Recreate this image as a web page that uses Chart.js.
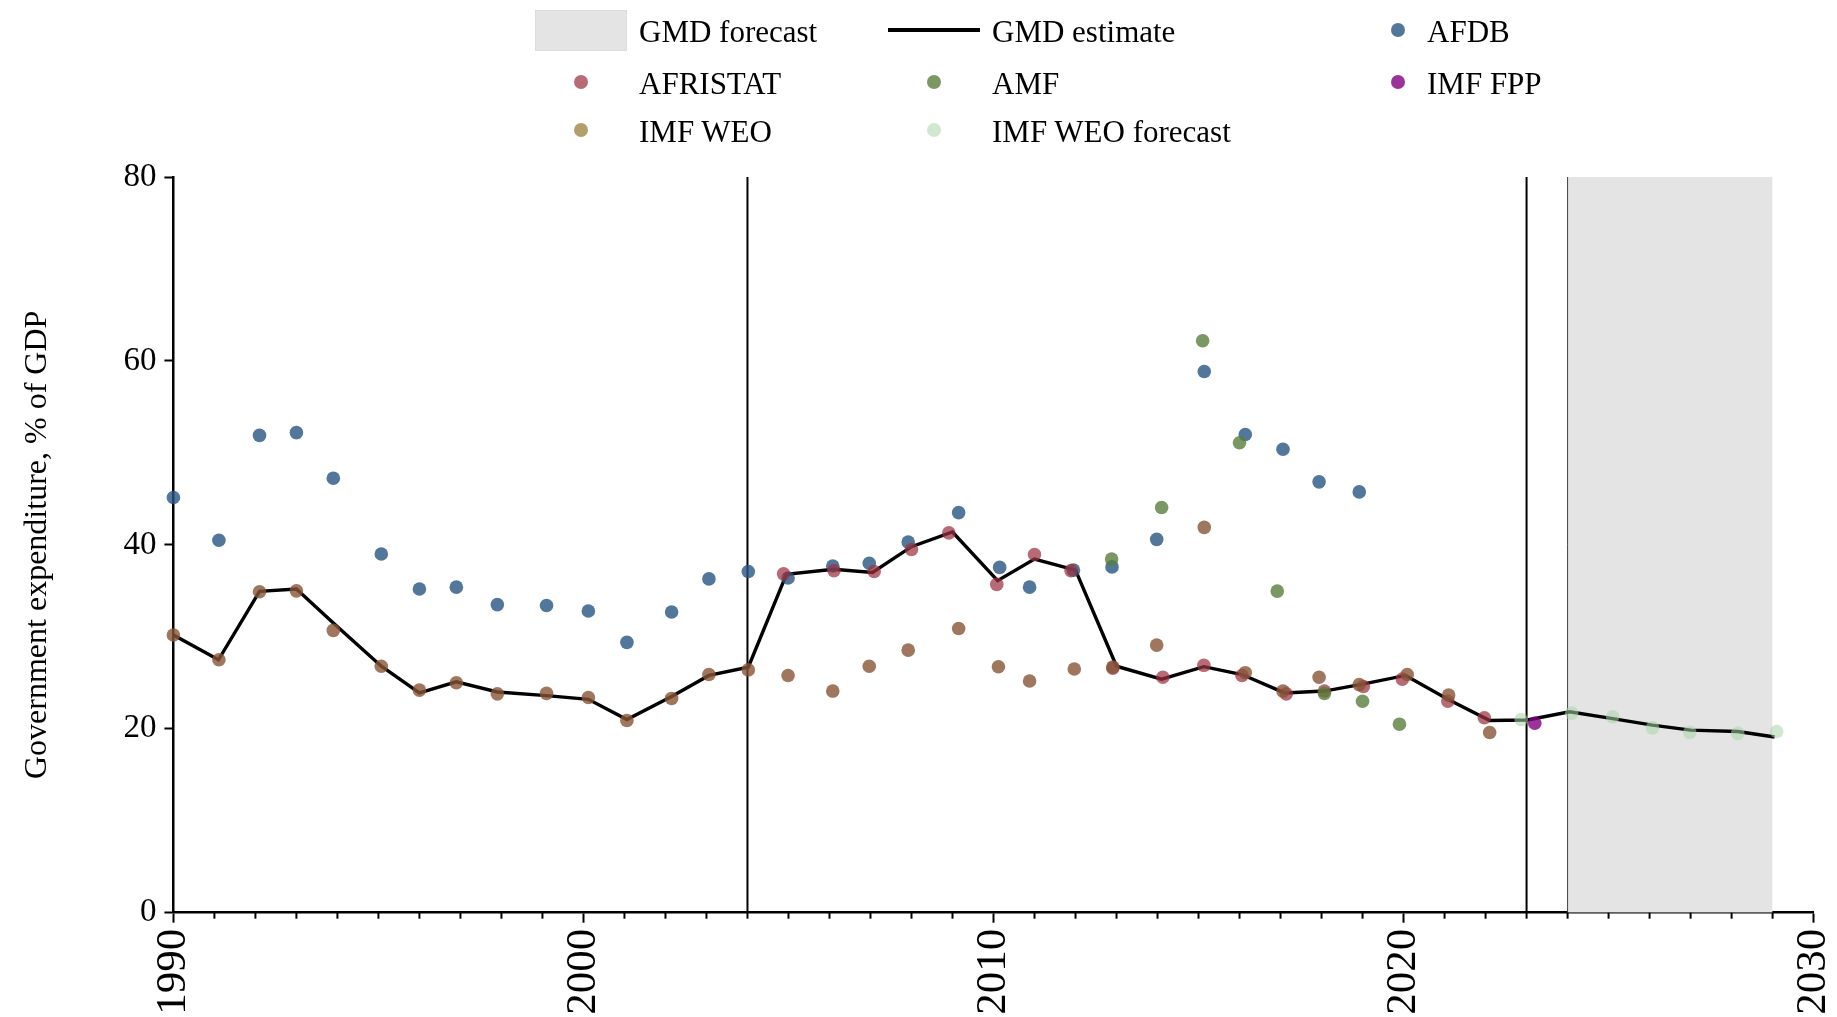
<!DOCTYPE html>
<html>
<head>
<meta charset="utf-8">
<script src="https://cdn.jsdelivr.net/npm/chart.js@4.4.1/dist/chart.umd.min.js"></script>
<style>
  html, body { margin: 0; padding: 0; background: #fff; overflow: hidden; }
  #wrap { position: relative; width: 1837px; height: 1017px; }
  #legend { position: absolute; left: 0; top: 0; width: 1837px; height: 160px;
            font-family: "Liberation Serif", "Times New Roman", serif; font-size: 31px; color: #000; }
  .lg-text { position: absolute; line-height: 31px; white-space: nowrap; }
  .lg-box { position: absolute; width: 92px; height: 41px; background: #e4e4e4; box-sizing: border-box; border: 1px solid #dcdcdc; }
  .lg-line { position: absolute; width: 92px; height: 3.5px; background: #000; }
  .lg-dot { position: absolute; width: 14px; height: 14px; border-radius: 50%; }
</style>
</head>
<body>
<div id="wrap">
  <canvas id="gmd_chart" width="1837" height="1017"></canvas>
  <div id="legend"></div>
</div>
<script>
// GMD estimate (black line)
var gmdYears = [1990.0, 1991.1, 1992.1, 1993.0, 1993.9, 1995.07, 1996.0, 1996.9, 1997.9, 1999.1,
  2000.12, 2001.06, 2002.15, 2003.06, 2004.02, 2004.95, 2006.1, 2007.05, 2008.0, 2009.0,
  2010.1, 2011.0, 2012.0, 2013.0, 2014.1, 2015.13, 2016.06, 2017.1, 2018.07, 2019.0,
  2020.05, 2021.08, 2022.1, 2023.02, 2024.05, 2025.1, 2026.07, 2027.0, 2028.15, 2029.05];
var gmdValues = [30.2, 27.5, 34.95, 35.2, 31.5, 26.8, 23.9, 25.1, 24.0, 23.6,
  23.2, 21.0, 23.5, 25.8, 26.7, 36.8, 37.35, 37.0, 39.8, 41.4,
  36.1, 38.45, 37.25, 26.8, 25.4, 26.75, 25.9, 23.9, 24.1, 24.85,
  25.8, 23.2, 20.9, 20.95, 21.85, 21.1, 20.4, 19.85, 19.7, 19.1];

var afdbYears = [1990.0, 1991.11, 1992.1, 1993.0, 1993.9, 1995.07, 1996.0, 1996.9, 1997.9, 1999.1,
  2000.12, 2001.06, 2002.15, 2003.06, 2004.02, 2004.99, 2006.08, 2006.97, 2007.92, 2009.15,
  2010.15, 2010.88, 2011.95, 2012.89, 2013.98, 2015.14, 2016.14, 2017.06, 2017.94, 2018.92];
var afdbValues = [45.15, 40.5, 51.9, 52.2, 47.25, 39.0, 35.2, 35.4, 33.5, 33.4,
  32.8, 29.4, 32.7, 36.3, 37.1, 36.4, 37.7, 38.0, 40.3, 43.5,
  37.55, 35.4, 37.25, 37.6, 40.6, 58.85, 52.0, 50.4, 46.85, 45.76];

var afristatYears = [2004.88, 2006.11, 2007.09, 2008.0, 2008.91, 2010.08, 2011.0, 2011.89, 2012.91, 2014.13,
  2015.13, 2016.06, 2017.14, 2018.07, 2019.02, 2019.97, 2021.08, 2021.97];
var afristatValues = [36.85, 37.2, 37.1, 39.5, 41.3, 35.7, 38.95, 37.2, 26.6, 25.6,
  26.9, 25.8, 23.8, 24.1, 24.6, 25.4, 23.0, 21.2];

var amfYears = [2012.88, 2014.1, 2015.1, 2016.0, 2016.92, 2018.07, 2019.0, 2019.9];
var amfValues = [38.45, 44.06, 62.2, 51.1, 34.97, 23.85, 23.0, 20.5];

var imfFppYears = [2023.2];
var imfFppValues = [20.6];

var weoYears = [1990.0, 1991.11, 1992.1, 1993.0, 1993.9, 1995.07, 1996.0, 1996.9, 1997.9, 1999.1,
  2000.12, 2001.06, 2002.15, 2003.06, 2004.02, 2004.99, 2006.08, 2006.97, 2007.92, 2009.15,
  2010.12, 2010.88, 2011.97, 2012.91, 2013.98, 2015.14, 2016.14, 2017.06, 2017.94, 2018.92,
  2020.09, 2021.1, 2022.1];
var weoValues = [30.2, 27.5, 34.9, 35.0, 30.7, 26.8, 24.2, 25.0, 23.8, 23.85,
  23.4, 20.9, 23.3, 25.9, 26.4, 25.8, 24.1, 26.8, 28.55, 30.9,
  26.75, 25.2, 26.5, 26.7, 29.1, 41.9, 26.1, 24.1, 25.6, 24.8,
  25.9, 23.66, 19.6];

var weoForecastYears = [2022.87, 2024.1, 2025.1, 2026.07, 2026.98, 2028.15, 2029.1];
var weoForecastValues = [21.0, 21.7, 21.3, 20.1, 19.6, 19.5, 19.7];

var forecastStart = 2024, forecastEnd = 2029;
var markerYears = [2004, 2023];

var serif = "'Liberation Serif', 'Times New Roman', serif";

function pts(xs, ys) {
  return xs.map(function (x, i) { return { x: x, y: ys[i] }; });
}

function dots(label, xs, ys, color, order, legendColor) {
  return {
    label: label,
    data: pts(xs, ys),
    backgroundColor: color,
    pointBackgroundColor: color,
    pointBorderWidth: 0,
    pointRadius: 6.8,
    pointHoverRadius: 6.8,
    showLine: false,
    clip: false,
    order: order,
    legendKind: "dot",
    legendColor: legendColor || color,
  };
}

function vline(x, width, color, order) {
  return {
    label: "",
    data: [{ x: x, y: 0 }, { x: x, y: 80 }],
    showLine: true,
    borderColor: color,
    borderWidth: width,
    pointRadius: 0,
    order: order,
  };
}

var datasets = [
  {
    label: "GMD forecast",
    data: [{ x: forecastStart, y: 80 }, { x: forecastEnd, y: 80 }],
    showLine: true,
    fill: "origin",
    backgroundColor: "#e4e4e4",
    borderWidth: 0,
    borderColor: "rgba(0,0,0,0)",
    pointRadius: 0,
    order: 20,
    legendKind: "box",
  },
  vline(forecastStart, 1, "#444", 19),
  vline(markerYears[0], 2, "#000", 18),
  vline(markerYears[1], 2, "#000", 18),
  {
    label: "GMD estimate",
    data: pts(gmdYears, gmdValues),
    showLine: true,
    borderColor: "#000",
    borderWidth: 3.4,
    pointRadius: 0,
    tension: 0,
    order: 10,
    legendKind: "line",
  },
  dots("AFDB", afdbYears, afdbValues, "rgba(40,85,130,0.8)", 7),
  dots("AFRISTAT", afristatYears, afristatValues, "rgba(155,50,65,0.72)", 6),
  dots("AMF", amfYears, amfValues, "rgba(90,125,60,0.8)", 4),
  dots("IMF FPP", imfFppYears, imfFppValues, "rgba(130,0,130,0.8)", 2),
  dots("IMF WEO", weoYears, weoValues, "rgba(135,85,55,0.8)", 3, "rgba(160,135,70,0.8)"),
  dots("IMF WEO forecast", weoForecastYears, weoForecastValues, "rgba(170,212,170,0.55)", 1),
];

// small ticks for every year on the x axis
var minorTicks = {
  id: "minorTicks",
  afterDraw: function (chart) {
    var xs = chart.scales.x, c = chart.ctx;
    c.save();
    c.strokeStyle = "#000";
    c.lineWidth = 2;
    for (var yr = 1990; yr <= 2030; yr++) {
      if (yr % 10 === 0) continue;
      var px = xs.getPixelForValue(yr);
      c.beginPath();
      c.moveTo(px, xs.top);
      c.lineTo(px, xs.top + 6);
      c.stroke();
    }
    c.restore();
  },
};

var ctx = document.getElementById("gmd_chart").getContext("2d");
var gmd_chart = new Chart(ctx, {
  type: "scatter",
  data: { datasets: datasets },
  options: {
    responsive: false,
    animation: false,
    events: [],
    layout: { padding: { top: 177, right: 23.4, left: 0, bottom: 0 } },
    plugins: {
      legend: { display: false },
      tooltip: { enabled: false },
    },
    scales: {
      x: {
        type: "linear",
        min: 1990,
        max: 2030,
        afterFit: function (s) {
          s.height = 104.3;
          s.paddingLeft = 0;
          s.paddingRight = 0;
        },
        ticks: {
          stepSize: 10,
          minRotation: 90,
          maxRotation: 90,
          autoSkip: false,
          padding: 6,
          color: "#000",
          font: { family: serif, size: 43 },
          callback: function (v) { return String(v); },
        },
        grid: { drawOnChartArea: false, tickLength: 10, tickWidth: 2, tickColor: "#000" },
        border: { color: "#000", width: 2.5 },
      },
      y: {
        min: 0,
        max: 80,
        afterFit: function (s) { s.width = 173.4; },
        ticks: {
          stepSize: 20,
          padding: 8,
          color: "#000",
          font: { family: serif, size: 33 },
        },
        grid: { drawOnChartArea: false, tickLength: 9, tickWidth: 2, tickColor: "#000" },
        border: { color: "#000", width: 2.5 },
        title: {
          display: true,
          text: "Government expenditure, % of GDP",
          color: "#000",
          font: { family: serif, size: 32 },
          padding: { top: 18, bottom: 0 },
        },
      },
    },
  },
  plugins: [minorTicks],
});

// legend, laid out in three columns like the original
var slots = [
  [580.6, 30, 639], [933.7, 30, 992], [1398, 30, 1427],
  [580.6, 82.3, 639], [933.7, 82.3, 992], [1398, 82.3, 1427],
  [580.6, 129.8, 639], [933.7, 129.8, 992],
];
var legendEl = document.getElementById("legend");
gmd_chart.data.datasets.filter(function (d) { return d.legendKind; }).forEach(function (d, i) {
  var s = slots[i];
  var sw = document.createElement("div");
  if (d.legendKind === "box") {
    sw.className = "lg-box";
    sw.style.left = (s[0] - 46) + "px";
    sw.style.top = (s[1] - 20.5) + "px";
  } else if (d.legendKind === "line") {
    sw.className = "lg-line";
    sw.style.left = (s[0] - 46) + "px";
    sw.style.top = (s[1] - 1.75) + "px";
  } else {
    sw.className = "lg-dot";
    sw.style.left = (s[0] - 7) + "px";
    sw.style.top = (s[1] - 7) + "px";
    sw.style.background = d.legendColor;
  }
  legendEl.appendChild(sw);
  var tx = document.createElement("div");
  tx.className = "lg-text";
  tx.textContent = d.label;
  tx.style.left = s[2] + "px";
  tx.style.top = (s[1] + 1.5 - 15.7) + "px";
  legendEl.appendChild(tx);
});
</script>
</body>
</html>
